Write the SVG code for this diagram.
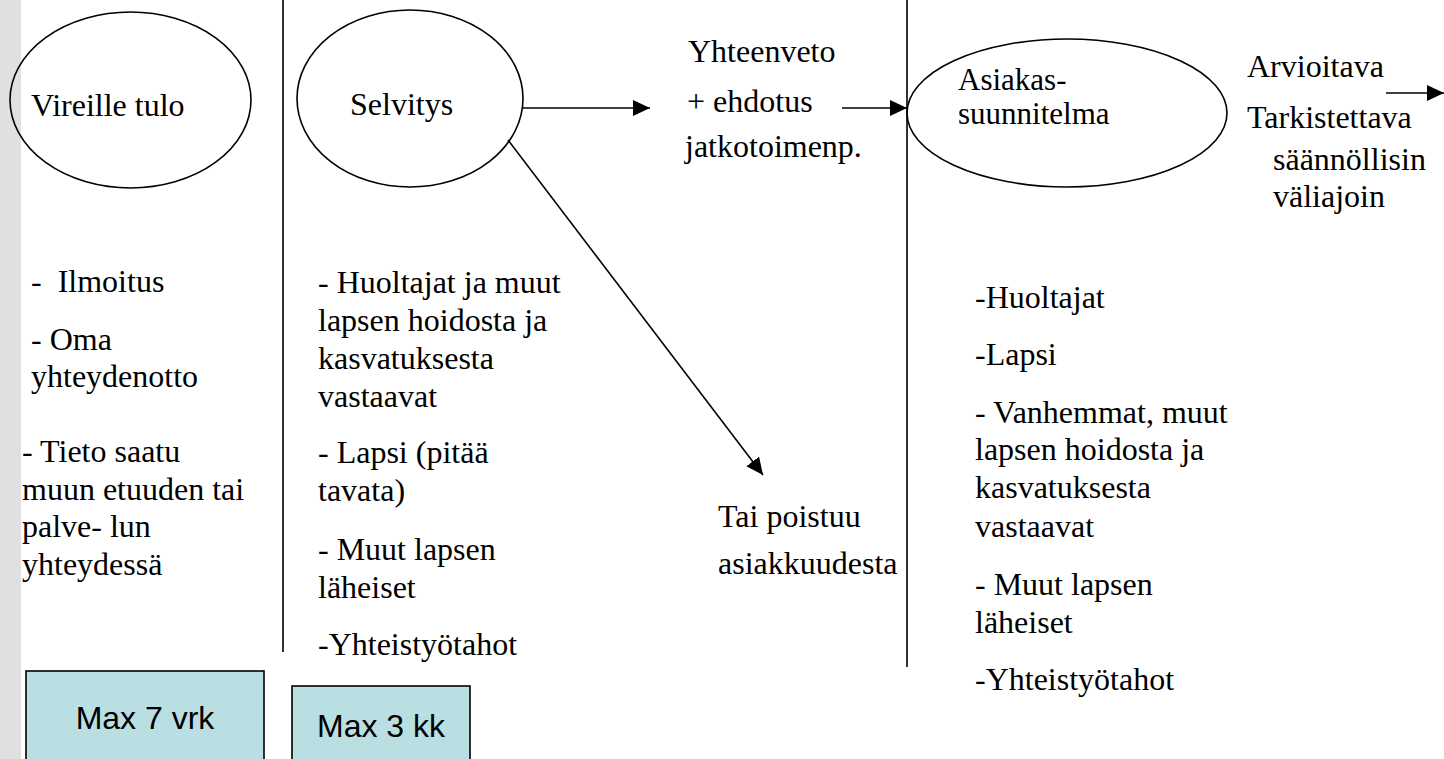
<svg xmlns="http://www.w3.org/2000/svg" width="1444" height="759" viewBox="0 0 1444 759">
<defs>
<style>
.t{font-family:'Liberation Serif',serif;font-size:32px;fill:#000}
.s{font-family:'Liberation Sans',sans-serif;font-size:32px;fill:#000}
.ell{fill:none;stroke:#000;stroke-width:1.6}
.box{fill:#b9dfe3;stroke:#000;stroke-width:1.6}
.div{stroke:#000;stroke-width:1.6}
.con{stroke:#000;stroke-width:1.6;fill:none;marker-end:url(#arr)}
</style>
<marker id="arr" markerUnits="userSpaceOnUse" markerWidth="18" markerHeight="16" refX="17" refY="8" orient="auto">
<path d="M0,0 L17,8 L0,16 Z" fill="#000"/>
</marker>
</defs>
<rect x="0" y="0" width="1444" height="759" fill="#fff"/>
<rect x="0" y="0" width="21" height="759" fill="#e0e0e0"/>
<g id="dividers">
<line class="div" x1="283" y1="0" x2="283" y2="652"/>
<line class="div" x1="907" y1="0" x2="907" y2="667"/>
</g>
<g id="vireille">
<ellipse class="ell" cx="130.5" cy="100" rx="120.5" ry="88"/>
<text class="t" x="31" y="116">Vireille tulo</text>
</g>
<g id="selvitys">
<ellipse class="ell" cx="410" cy="98.5" rx="113" ry="88.5"/>
<text class="t" x="350" y="115">Selvitys</text>
</g>
<g id="yhteenveto">
<text class="t" x="688" y="62">Yhteenveto</text>
<text class="t" x="687" y="112">+ ehdotus</text>
<text class="t" x="685" y="157">jatkotoimenp.</text>
</g>
<g id="asiakassuunnitelma">
<ellipse class="ell" cx="1067" cy="113" rx="160" ry="74"/>
<text class="t" x="958" y="90" style="font-size:31px">Asiakas-</text>
<text class="t" x="958" y="124" style="font-size:31px">suunnitelma</text>
</g>
<g id="arvioitava">
<text class="t" x="1247" y="77">Arvioitava</text>
<text class="t" x="1247" y="128">Tarkistettava</text>
<text class="t" x="1273" y="170">säännöllisin</text>
<text class="t" x="1273" y="207">väliajoin</text>
</g>
<g id="poistuu">
<text class="t" x="718" y="527">Tai poistuu</text>
<text class="t" x="718" y="574">asiakkuudesta</text>
</g>
<g id="list1">
<text class="t" x="31" y="292" xml:space="preserve">-  Ilmoitus</text>
<text class="t" x="31" y="350">- Oma</text>
<text class="t" x="31" y="387">yhteydenotto</text>
<text class="t" x="22" y="462">- Tieto saatu</text>
<text class="t" x="22" y="500">muun etuuden tai</text>
<text class="t" x="22" y="537">palve- lun</text>
<text class="t" x="22" y="575">yhteydessä</text>
</g>
<g id="list2">
<text class="t" x="318" y="293">- Huoltajat ja muut</text>
<text class="t" x="318" y="331">lapsen hoidosta ja</text>
<text class="t" x="318" y="369">kasvatuksesta</text>
<text class="t" x="318" y="407">vastaavat</text>
<text class="t" x="318" y="463">- Lapsi (pitää</text>
<text class="t" x="318" y="501">tavata)</text>
<text class="t" x="318" y="560">- Muut lapsen</text>
<text class="t" x="318" y="598">läheiset</text>
<text class="t" x="318" y="655">-Yhteistyötahot</text>
</g>
<g id="list3">
<text class="t" x="975" y="308">-Huoltajat</text>
<text class="t" x="975" y="365">-Lapsi</text>
<text class="t" x="975" y="423">- Vanhemmat, muut</text>
<text class="t" x="975" y="460">lapsen hoidosta ja</text>
<text class="t" x="975" y="498">kasvatuksesta</text>
<text class="t" x="975" y="537">vastaavat</text>
<text class="t" x="975" y="595">- Muut lapsen</text>
<text class="t" x="975" y="633">läheiset</text>
<text class="t" x="975" y="690">-Yhteistyötahot</text>
</g>
<g id="max7">
<rect class="box" x="26" y="671" width="238" height="100"/>
<text class="s" x="145" y="729" text-anchor="middle">Max 7 vrk</text>
</g>
<g id="max3">
<rect class="box" x="292" y="686" width="178" height="90"/>
<text class="s" x="381" y="737" text-anchor="middle">Max 3 kk</text>
</g>
<g id="connectors">
<line class="con" x1="523" y1="108" x2="650" y2="108"/>
<line class="con" x1="508" y1="140" x2="763" y2="475"/>
<line class="con" x1="842" y1="108" x2="907" y2="108"/>
<line class="con" x1="1386" y1="93" x2="1444" y2="93"/>
</g>
</svg>
